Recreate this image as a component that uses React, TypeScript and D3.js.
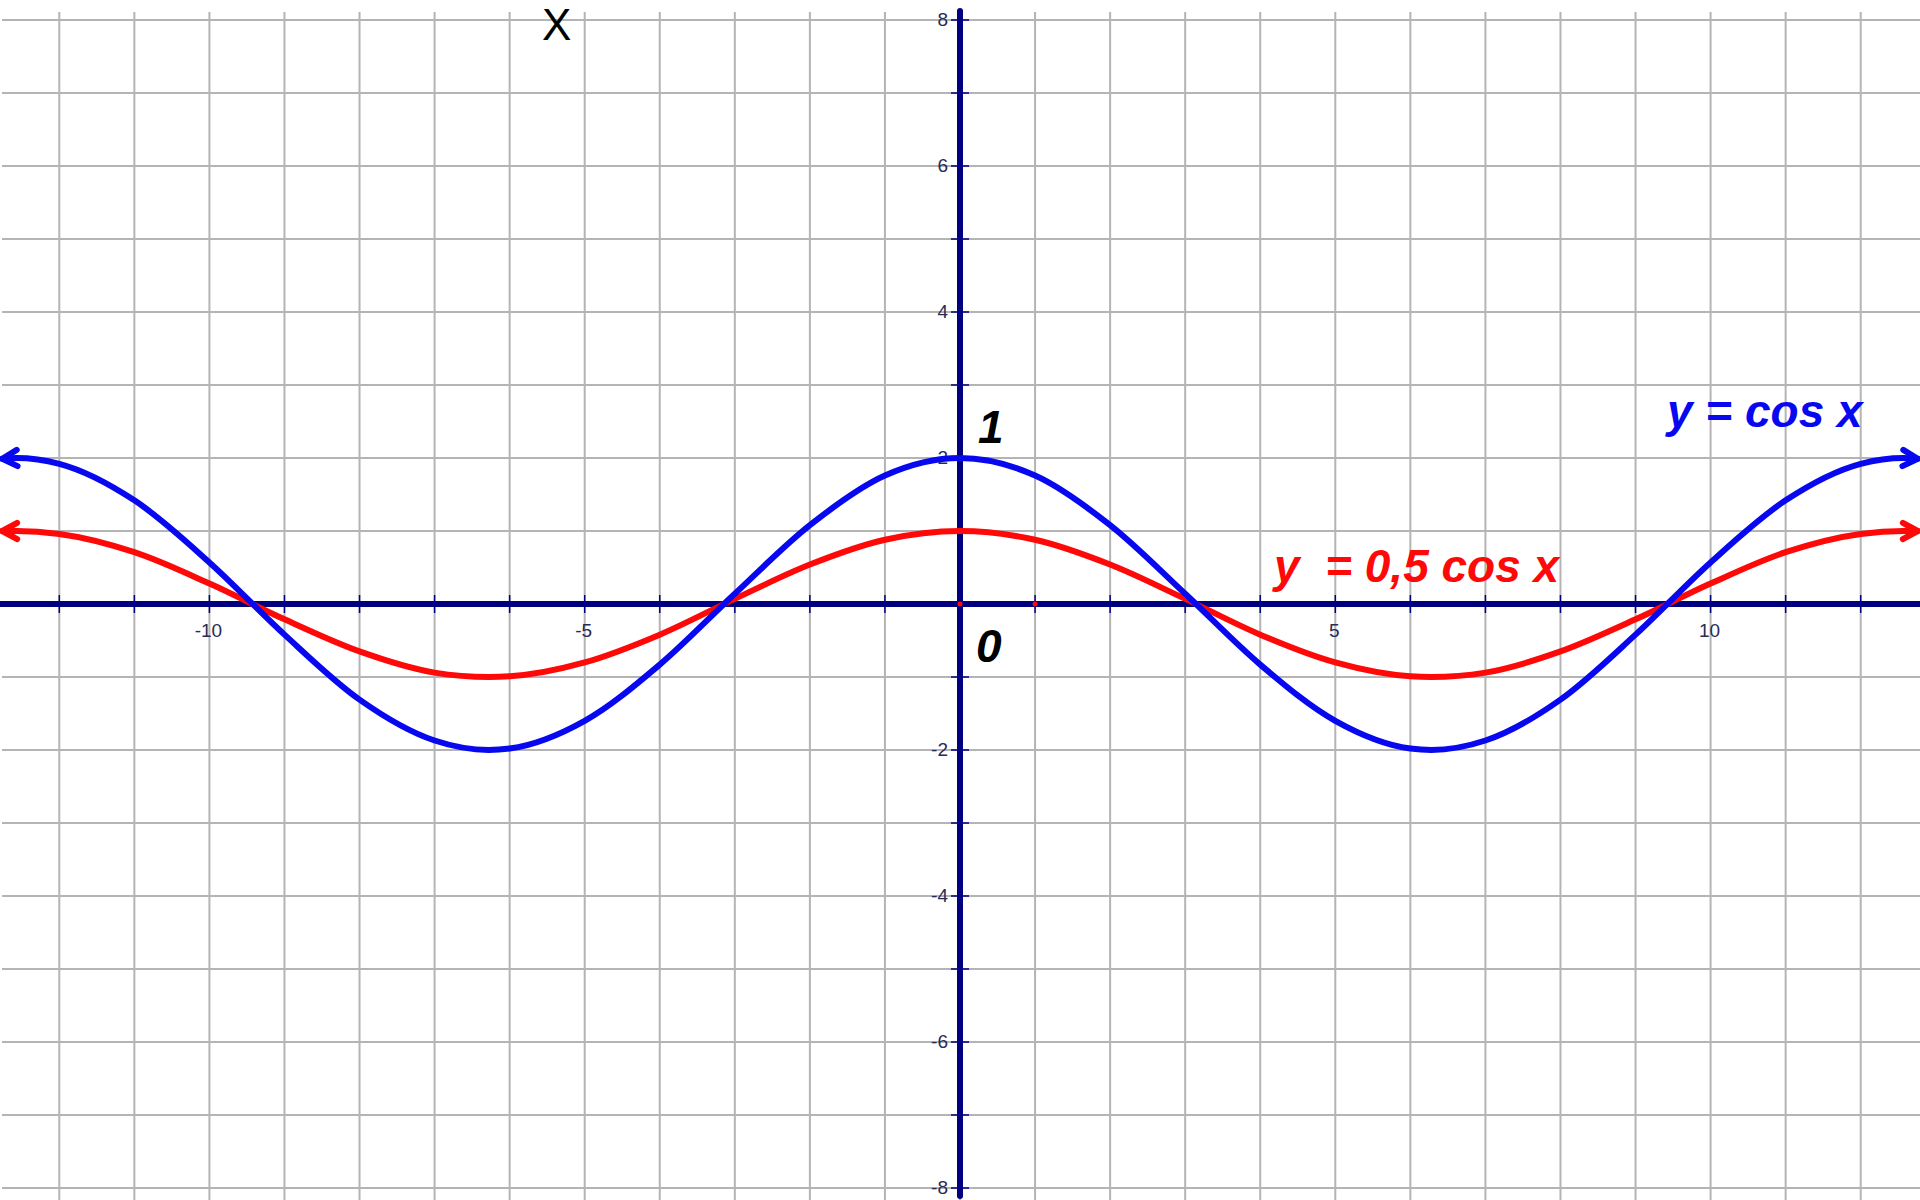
import React from "react";
import * as d3 from "d3";

const W = 1920;
const H = 1200;

// x positions (grid units)
const sampleX = [
  -12.76, -12.57, -12, -11, -10, -9, -8, -7, -6.28, -6, -5, -4, -3, -2, -1, 0,
  1, 2, 3, 4, 5, 6, 6.28, 7, 8, 9, 10, 11, 12, 12.57, 12.76,
];
// blue curve values ("y = cos x")
const blueY = [
  1.99, 2.0, 1.92, 1.42, 0.57, -0.42, -1.31, -1.87, -2.0, -1.98, -1.6, -0.83, 0.14, 1.08, 1.76, 2.0,
  1.76, 1.08, 0.14, -0.83, -1.6, -1.98, -2.0, -1.87, -1.31, -0.42, 0.57, 1.42, 1.92, 2.0, 1.99,
];
// red curve values ("y = 0,5 cos x")
const redY = [
  1.0, 1.0, 0.96, 0.71, 0.28, -0.21, -0.65, -0.94, -1.0, -0.99, -0.8, -0.42, 0.07, 0.54, 0.88, 1.0,
  0.88, 0.54, 0.07, -0.42, -0.8, -0.99, -1.0, -0.94, -0.65, -0.21, 0.28, 0.71, 0.96, 1.0, 1.0,
];

const gridX = d3.range(-12, 13);
const gridY = d3.range(-8, 9);
const xTickLabels = [-10, -5, 5, 10];
const yTickLabels = [-8, -6, -4, -2, 2, 4, 6, 8];

const blueLabel = "y = cos x";
const redLabel = "y  = 0,5 cos x";

const x = d3.scaleLinear().domain([-12.79, 12.79]).range([0, W]);
const y = d3.scaleLinear().domain([8, -8]).range([20, 1188]);

const AXIS = "#000080";
const GRID = "#b4b4b4";
const BLUE = "#0808f0";
const RED = "#ff0808";
const FONT = "'Liberation Sans', Arial, sans-serif";

function arrowHead(p0: [number, number], p1: [number, number], len = 17, ang = 0.5) {
  const a = Math.atan2(p1[1] - p0[1], p1[0] - p0[0]);
  const b1: [number, number] = [p1[0] - len * Math.cos(a - ang), p1[1] - len * Math.sin(a - ang)];
  const b2: [number, number] = [p1[0] - len * Math.cos(a + ang), p1[1] - len * Math.sin(a + ang)];
  return `M${b1[0]},${b1[1]}L${p1[0]},${p1[1]}L${b2[0]},${b2[1]}`;
}

function Curve({ values, color }: { values: number[]; color: string }) {
  const pts: [number, number][] = sampleX.map((sx, i) => [x(sx), y(values[i])]);
  const line = d3.line().curve(d3.curveMonotoneX)(pts) || "";
  const n = pts.length;
  const left = arrowHead([pts[1][0], pts[1][1]], pts[0]);
  const right = arrowHead([pts[n - 2][0], pts[n - 2][1]], pts[n - 1]);
  return (
    <g fill="none" stroke={color} strokeWidth={6} strokeLinecap="round" strokeLinejoin="round">
      <path d={line} />
      <path d={left} />
      <path d={right} />
    </g>
  );
}

export default function App() {
  const x0 = x(0);
  const y0 = y(0);
  return (
    <svg
      width={W}
      height={H}
      viewBox={`0 0 ${W} ${H}`}
      style={{ position: "absolute", left: 0, top: 0, background: "#fff" }}
    >
      <rect x={0} y={0} width={W} height={H} fill="#fff" />
      {/* grid */}
      <g stroke={GRID} strokeWidth={2}>
        {gridX.map((g) => (
          <line key={"gx" + g} x1={x(g)} x2={x(g)} y1={12} y2={H} />
        ))}
        {gridY.map((g) => (
          <line key={"gy" + g} x1={2} x2={W} y1={y(g)} y2={y(g)} />
        ))}
      </g>
      {/* axes */}
      <g stroke={AXIS} strokeLinecap="round">
        <line x1={0} x2={W} y1={y0} y2={y0} strokeWidth={6} strokeLinecap="butt" />
        <line x1={x0} x2={x0} y1={11} y2={1196} strokeWidth={6} />
      </g>
      {/* ticks */}
      <g stroke={AXIS} strokeWidth={1.5}>
        {gridX.map((g) => (
          <line key={"tx" + g} x1={x(g)} x2={x(g)} y1={y0 - 9} y2={y0 + 9} />
        ))}
        {gridY.map((g) => (
          <line key={"ty" + g} x1={x0 - 9} x2={x0 + 9} y1={y(g)} y2={y(g)} />
        ))}
      </g>
      <circle cx={x(0)} cy={y0} r={2.5} fill={RED} />
      <circle cx={x(1)} cy={y0} r={2.5} fill={RED} />
      {/* tick labels */}
      <g fontFamily={FONT} fontSize={19} fill="#2a2a55">
        {xTickLabels.map((t) => (
          <text key={"lx" + t} x={x(t) - 1} y={y0 + 28} textAnchor="middle" dominantBaseline="middle">
            {t}
          </text>
        ))}
        {yTickLabels.map((t) => (
          <text key={"ly" + t} x={x0 - 12} y={y(t) + 1} textAnchor="end" dominantBaseline="middle">
            {t}
          </text>
        ))}
      </g>
      {/* curves */}
      <Curve values={redY} color={RED} />
      <Curve values={blueY} color={BLUE} />
      {/* annotations */}
      <g fontFamily={FONT} fontWeight="bold" fontStyle="italic" fontSize={46}>
        <text x={978} y={443} fill="#000">1</text>
        <text x={976} y={662} fill="#000">0</text>
        <text x={1667} y={427} fill={BLUE} style={{ whiteSpace: "pre" }}>
          {blueLabel}
        </text>
        <text x={1274} y={582} fill={RED} style={{ whiteSpace: "pre" }}>
          {redLabel}
        </text>
      </g>
      <text x={542} y={40} fontFamily={FONT} fontSize={44} fill="#000">
        X
      </text>
    </svg>
  );
}
